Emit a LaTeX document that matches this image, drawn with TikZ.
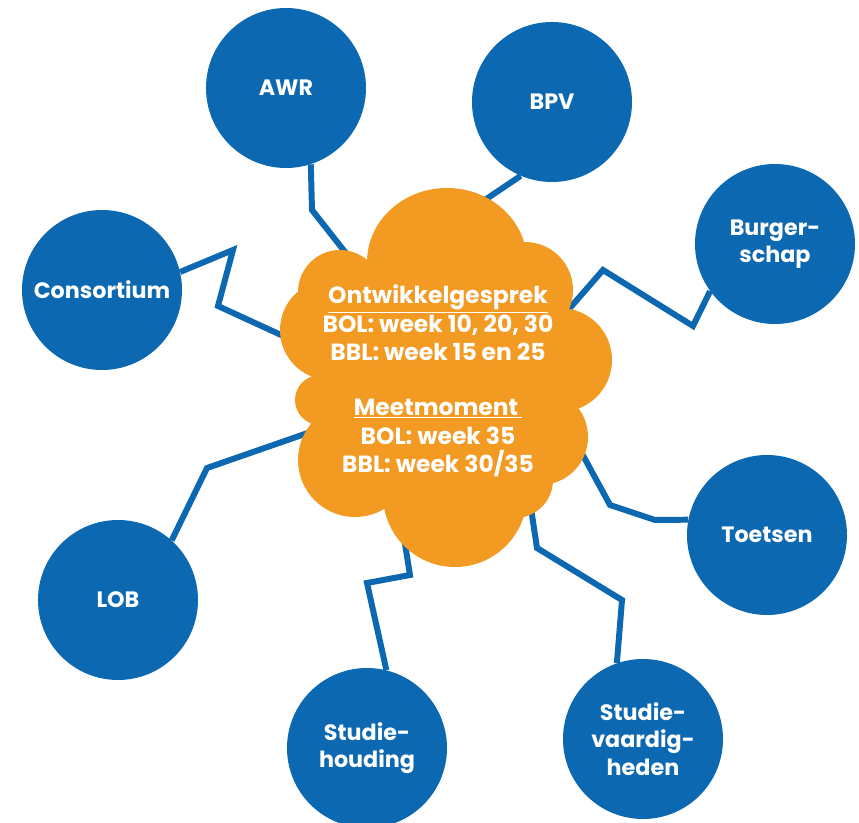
\documentclass[tikz,border=0pt]{standalone}
\usepackage{fontspec}
\setmainfont{Poppins}
\usetikzlibrary{backgrounds}
\definecolor{mboblue}{HTML}{0C68B1}
\definecolor{mboorange}{HTML}{F29A21}

\tikzset{
  topic/.style={circle, fill=mboblue, minimum size=4.8cm, inner sep=0pt,
    text=white, align=center, font=\fontsize{19}{23.5}\selectfont\bfseries},
  hubtext/.style={text=white, align=center, inner sep=0pt,
    font=\fontsize{20}{24.3}\selectfont\bfseries},
  link/.style={mboblue, line width=5.1pt, line join=miter},
  puff/.style={fill=mboorange}
}

\begin{document}
\begin{tikzpicture}[x=0.03cm, y=-0.03cm]

% Canvas: 859 x 823 (pixel units, y downwards)
\useasboundingbox (0,0) rectangle (859,823);

% ================================================================
% CLOUD: union of puffs, filler in the middle
% ================================================================
\fill[puff] (447,262) ellipse [x radius=80, y radius=74]; % top
\fill[puff] (525,290) circle [radius=48];                  % upper right
\fill[puff] (560,360) circle [radius=52];                  % right
\fill[puff] (540,437) circle [radius=48];                  % lower right
\fill[puff] (515,480) circle [radius=38];                  % bottom right
\fill[puff] (455,495) circle [radius=72];                  % bottom
\fill[puff] (355,460) circle [radius=57];                  % lower left
\fill[puff] (320,400) circle [radius=25];                  % left bump
\fill[puff] (330,330) circle [radius=50];                  % upper left
\fill[puff] (340,292) circle [radius=42];
\fill[puff] (445,385) ellipse [x radius=115, y radius=130]; % filler

\node[hubtext] (hub) at (438,381) {%
  \underline{Ontwikkelgesprek}\\
  BOL: week 10, 20, 30\\
  BBL: week 15 en 25\\[22.5pt]
  \underline{Meetmoment\,}\\
  BOL: week 35\\
  BBL: week 30/35};

% ================================================================
% TOPICS round the cloud
% ================================================================
\foreach \nm/\x/\y/\txt in {
    awr/286/88/{AWR},
    bpv/552/102/{BPV},
    burger/775/244/{Burger-\\schap},
    consortium/102/290/{Consortium},
    toetsen/767/535/{Toetsen},
    lob/118/600/{LOB},
    houding/367/748/{Studie-\\houding},
    vaardig/643/739/{Studie-\\vaardig-\\heden}} {
  \node[topic] (\nm) at (\x,\y) {\txt};
}

% free ends of the links, hidden inside the cloud
\coordinate (inAwr) at (360,271);
\coordinate (inBpv) at (470,210);
\coordinate (inBurger) at (556,324);
\coordinate (inCons) at (305,346);
\coordinate (inLob) at (325,427);
\coordinate (inHouding) at (402,525);
\coordinate (inVaardig) at (529,495);
\coordinate (inToetsen) at (573,437);

% ================================================================
% LINKS (behind cloud and circles)
% ================================================================
\begin{pgfonlayer}{background}
\draw[link] (awr.-72) -- (312,210) -- (inAwr);
\draw[link] (bpv.-113) -- (inBpv);
\draw[link] (burger.-144) -- (693,326) -- (603,270) -- (inBurger);
\draw[link] (consortium.13) -- (233,250) -- (218,306) -- (inCons);
\draw[link] (lob.48) -- (207,468) -- (inLob);
\draw[link] (houding.76) -- (367,583) -- (410,575) -- (inHouding);
\draw[link] (vaardig.109) -- (622,600) -- (537,548) -- (inVaardig);
\draw[link] (toetsen.169) -- (655,520) -- (610,505) -- (inToetsen);
\end{pgfonlayer}

\end{tikzpicture}
\end{document}
